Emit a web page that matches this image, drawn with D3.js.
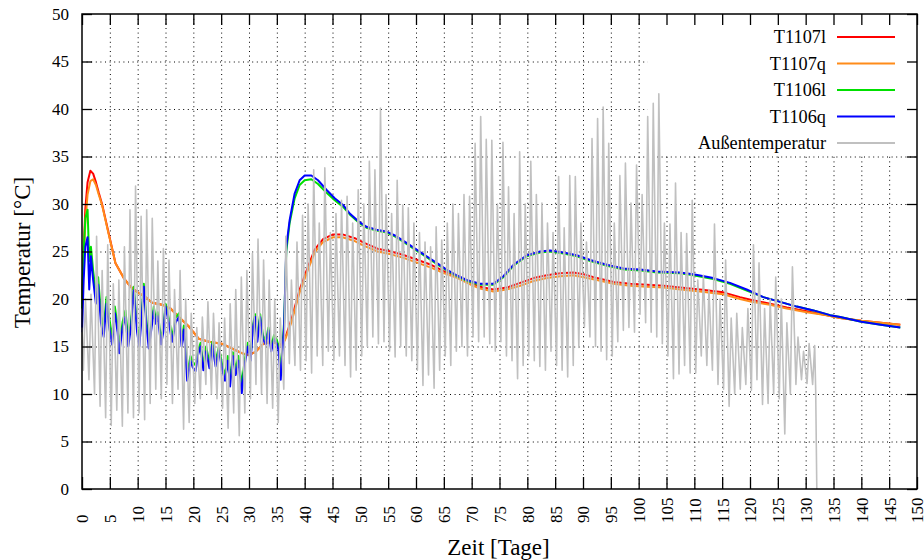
<!DOCTYPE html>
<html lang="de">
<head>
    <meta charset="UTF-8">
    <title>Temperaturverlauf</title>
    <script src="https://cdn.jsdelivr.net/npm/d3@7"></script>
    <style>
        body { margin: 0; background: #fff; }
        svg text { font-family: "Liberation Serif", "DejaVu Serif", serif; fill: #000; }
        .grid line { stroke: #000; stroke-width: 1; stroke-dasharray: 1,3.6; }
        .grid path { display: none; }
        .axis path { display: none; }
        .axis line { stroke: #000; stroke-width: 1.3; }
        .series { fill: none; stroke-linejoin: round; }
    </style>
</head>
<body>
<div id="chart"></div>
<script>
// ---- data ----
// T1107 sensors (red / orange), shared day stamps
const t1107Days = [0, 0.3, 0.6, 1, 1.5, 2, 2.5, 3, 3.6, 4.8, 6, 7.5, 8.7, 10, 11.4, 12.6, 14.4, 15.9,
    17.4, 19.2, 21, 22.8, 25.1, 26.9, 28.7, 29.9, 31.1, 32.6, 34.1, 35.6, 36.4, 37.6, 39.1, 40.6, 41.8,
    43.3, 45.1, 46.8, 49, 50.7, 53.1, 55.5, 57.9, 60.3, 62.7, 65.1, 67.5, 69.9, 71.5, 73.9, 76.3, 78.7,
    81.1, 83.5, 85.9, 88.3, 90.1, 92.5, 95.5, 98.5, 101.5, 104.5, 107.5, 111, 115.2, 118.2, 120.3,
    123.6, 126.6, 130.2, 133.8, 136.2, 140, 143.5, 147];
const t1107l = [19.5, 25, 29.5, 32.3, 33.5, 33.2, 32.3, 31.2, 30, 26.9, 23.8, 22.2, 21.3, 20.7, 20.2, 19.6, 19.4, 19,
    18.1, 17.1, 15.8, 15.5, 15.3, 14.8, 14.3, 14.1, 14.4, 15.3, 15.5, 15.2, 15.7, 17.8, 21, 23.4, 25.2,
    26.3, 26.8, 26.8, 26.4, 25.9, 25.3, 25, 24.6, 24.1, 23.6, 22.9, 22.4, 21.7, 21.3, 21, 21.2, 21.7,
    22.2, 22.5, 22.7, 22.8, 22.6, 22.2, 21.8, 21.6, 21.5, 21.4, 21.2, 21.0, 20.7, 20.2, 19.9,
    19.5, 19.1, 18.7, 18.3, 18.0, 17.7, 17.5, 17.3];
const t1107q = [19.5, 24, 28, 31, 32.4, 32.6, 32, 31, 29.9, 26.8, 23.8, 22.2, 21.3, 20.7, 20.2, 19.6, 19.4, 19,
    18.1, 17.1, 15.8, 15.5, 15.3, 14.8, 14.3, 14.1, 14.4, 15.3, 15.5, 15.2, 15.6, 17.5, 20.7, 23.1, 24.9,
    26, 26.5, 26.5, 26.1, 25.6, 25, 24.7, 24.3, 23.8, 23.3, 22.7, 22.2, 21.5, 21.1, 20.8, 21, 21.4,
    21.9, 22.2, 22.4, 22.5, 22.3, 22, 21.6, 21.4, 21.3, 21.2, 21.0, 20.8, 20.5, 20.0, 19.7,
    19.4, 19.0, 18.6, 18.3, 18.0, 17.7, 17.5, 17.3];

// T1106 sensors (green / blue), shared day stamps
const t1106Days = [0, 0.3, 0.6, 1.0, 1.3, 1.6, 2.0, 2.5, 2.9, 3.4, 3.9, 4.4, 4.9, 5.4, 5.9, 6.4, 6.7, 7.3, 7.8,
    8.3, 8.8, 9.3, 9.9, 10.3, 10.7, 11.1, 11.6, 12.0, 12.5, 12.9, 13.2, 13.6, 14.2, 14.6, 15.0, 15.6,
    16.2, 16.8, 17.4, 17.9, 18.3, 18.9, 19.5, 19.9, 20.4, 20.8, 21.3, 21.8, 22.3, 22.9, 23.4, 24.0,
    24.6, 25.2, 25.7, 26.2, 26.6, 27.1, 27.6, 28.1, 28.7, 29.2, 29.8, 30.3, 30.7, 31.1, 31.5, 32.0,
    32.5, 33.0, 33.5, 34.0, 34.5, 35.0, 35.3, 35.7, 36.0, 36.3, 36.7, 37.3, 38.2, 39.1, 40.0, 41.2,
    42.4, 43.9, 45.4, 46.9, 48.1, 49.6, 51.1, 52.9, 54.7, 56.2, 58.3, 60.1, 61.9, 63.7, 65.5, 67.3,
    69.1, 71.5, 73.9, 75.7, 77.5, 79.9, 82.3, 84.1, 86.5, 88.9, 91.3, 94.3, 97.3, 100.3, 103.3,
    107.4, 109.8, 113.4, 116.4, 119.4, 122.4, 125.4, 128.4, 131.4, 134.4, 136.2, 140, 143.5, 147];
const t1106l = [19, 25, 28.5, 29.4, 24, 25.5, 23, 20.5, 22.3, 18.5, 17, 20.2, 18, 16, 19.2, 17.2, 15.2, 17.6, 18.8,
    15.8, 17.6, 21.3, 17.2, 15.8, 18.5, 21.6, 17.6, 15.5, 17.5, 19.2, 18, 18.6, 15.8, 17, 19.5, 18,
    16, 18, 18.5, 15.6, 17.2, 12.2, 14, 13.4, 13, 14.5, 15.4, 13, 15, 13.3, 15.5, 13.5,
    15, 13, 12, 14, 11.5, 14.4, 12.6, 14, 11, 13.5, 15.4, 14, 17.3, 18.4, 16, 18.4,
    16.2, 15.6, 17, 15, 16.2, 15.7, 15, 12.5, 15, 17.5, 25, 28, 30.6, 32, 32.5, 32.6,
    32.1, 31.2, 30.4, 29.7, 28.9, 28.1, 27.5, 27.2, 27.0, 26.6, 25.8, 25.1, 24.4, 23.7, 23.0, 22.4,
    21.9, 21.5, 21.5, 22.3, 23.5, 24.5, 24.9, 25.0, 24.8, 24.5, 24.0, 23.5, 23.1, 23.0, 22.8,
    22.7, 22.5, 22.1, 21.6, 20.9, 20.2, 19.7, 19.2, 18.8, 18.3, 18.1, 17.6, 17.3, 17.0];
const t1106q = [16.5, 22, 25.5, 26.5, 21, 24.5, 22, 19.5, 21.5, 17.5, 16, 19.5, 17, 15.2, 18.5, 16.5, 14.3, 17, 18.1,
    15, 17, 20.9, 16.5, 15, 18, 21.3, 17, 14.8, 17, 18.8, 17.4, 18.2, 15.2, 16.5, 19.2, 17.5,
    15.5, 17.5, 18.1, 15, 16.8, 11.4, 13.5, 12.8, 12.4, 14, 15, 12.5, 14.5, 12.7, 15.2, 12.9,
    14.6, 12.5, 11.4, 13.5, 10.8, 14, 12, 13.5, 10.1, 13, 15, 13.5, 17, 18.1, 15.5, 18.1,
    15.8, 15.2, 16.7, 14.5, 15.8, 15.3, 14.6, 11.5, 14.5, 17, 25.5, 28.3, 31.1, 32.5, 33.0, 33.0,
    32.5, 31.5, 30.6, 29.9, 29, 28.2, 27.6, 27.3, 27.1, 26.7, 25.9, 25.2, 24.5, 23.8, 23.1, 22.5,
    22.0, 21.6, 21.6, 22.4, 23.6, 24.6, 25, 25.1, 24.9, 24.6, 24.1, 23.6, 23.2, 23.1, 22.9,
    22.8, 22.6, 22.2, 21.7, 21.0, 20.2, 19.7, 19.2, 18.8, 18.3, 18.1, 17.6, 17.3, 17.0];

// outside temperature: daily minimum and maximum, days 0..131
const outsideMin = [12.5, 11.5, 10, 8.7, 7.5, 6.7, 8.3, 6.6, 8, 7.5, 8, 7.3, 9, 10.5, 9.5, 11, 9, 10.5, 6.3, 7,
    9, 9.5, 11, 10, 9.5, 8.5, 6.4, 8, 5.6, 8, 9.5, 11, 10, 9, 8.5, 7, 10.5,
    13.2, 13, 12.5, 13.5, 12.2, 14, 13, 14.5, 13.5, 14, 13, 11.8, 12.5, 14, 15, 16, 15.3, 15.5, 14.5,
    13.9, 15, 14, 13.5, 12.5, 10.9, 12, 10.6, 12.5, 14, 13, 14.5, 15, 14, 16, 15.5,
    16, 15.3, 14.5, 15.5, 14, 13.5, 11.6, 13, 14, 13.5, 12.9, 12.5, 14.5, 13, 12.5, 11.8, 13, 14.9,
    17, 16, 15, 14.5, 13.6, 14, 15.5, 16.7, 17, 16.5, 18.4, 17.5, 16.5, 16, 15.3, 14, 11.6, 12.1,
    13, 12.2, 12.2, 14, 13, 12.5, 11, 10.5, 8.7, 10, 10.5, 11, 10.4, 11.5, 8.9, 9, 10, 9.5, 5.8,
    10, 11, 11.5, 11.1, 11];
const outsideMax = [20, 20.5, 26.6, 23, 25.7, 21.6, 22, 25.5, 29.4, 31.9, 28.7, 29.4, 28.5, 24, 25.3, 24.1, 21, 23,
    20, 18.5, 17, 18.1, 19.7, 18.5, 17.5, 18, 19.5, 21, 22.3, 23, 24.8, 26.3, 24.1, 22, 20, 18, 26.6,
    22, 26, 28.8, 30, 33.6, 28, 33.8, 27, 29, 30.4, 30.8, 28, 31.5, 30, 34.5, 33.6, 40.1, 31, 29,
    32.5, 29.9, 29.6, 28, 27, 26, 25.5, 27.6, 26.2, 28, 30, 29, 31, 30.8, 36.4, 39.2,
    36.8, 36.7, 30, 36.5, 31.8, 29, 35.5, 30, 34.5, 31, 30.1, 28, 27, 32.9, 27.5, 33, 32.9, 28,
    26, 36.9, 39, 40.2, 36.4, 28, 33, 34.3, 30.1, 34.1, 31, 39.2, 40.6, 41.6, 28, 27.9, 32.2, 27,
    26.9, 30.4, 22, 22.5, 21, 27.9, 20, 24.1, 18, 18.5, 17, 19, 25.7, 23.8, 19, 20, 22.3, 20, 17.5,
    23.4, 16, 14.5, 15.3, 15.1];
const outsideStart = [[0, 17]];
const outsideEnd = [[131.8, 10.4], [132.0, 0]];

const seriesNames = ["T1107l", "T1107q", "T1106l", "T1106q", "Außentemperatur"];
const seriesColors = ["#ff0000", "#ff8c1a", "#00e000", "#0000ff", "#c0c0c0"];
const xTicks = d3.range(0, 151, 5);
const yTicks = d3.range(0, 51, 5);

// ---- layout ----
const margin = { top: 14, right: 7, bottom: 71, left: 82 },
    width = 924 - margin.left - margin.right,
    height = 560 - margin.top - margin.bottom;

const svg = d3.select("#chart").append("svg")
    .attr("width", 924).attr("height", 560);
const g = svg.append("g")
    .attr("transform", `translate(${margin.left},${margin.top})`);

const x = d3.scaleLinear().domain([0, 150]).range([0, width]);
const y = d3.scaleLinear().domain([0, 50]).range([height, 0]);

// grid (dotted)
g.append("g").attr("class", "grid")
    .attr("transform", `translate(0,${height})`)
    .call(d3.axisBottom(x).tickValues(xTicks.slice(1, -1)).tickSize(-height).tickFormat(""));
g.append("g").attr("class", "grid")
    .call(d3.axisLeft(y).tickValues(yTicks.slice(1, -1)).tickSize(-width).tickFormat(""));

// the key box hides the grid behind it
g.append("rect")
    .attr("x", x(101.6)).attr("y", 0)
    .attr("width", width - x(101.6)).attr("height", y(35.15))
    .attr("fill", "#fff");

// series
const zip = (days, vals) => days.map((d, i) => [d, vals[i]]);
const outsidePts = outsideStart.concat(
    outsideMin.flatMap((v, d) => [[d + 0.25, v], [d + 0.62, outsideMax[d]]]),
    outsideEnd);
const seriesData = [
    zip(t1107Days, t1107l),
    zip(t1107Days, t1107q),
    zip(t1106Days, t1106l),
    zip(t1106Days, t1106q),
    outsidePts
];
const line = d3.line().x(d => x(d[0])).y(d => y(d[1]));

g.selectAll(".series")
    .data(seriesData)
    .join("path")
    .attr("class", "series")
    .attr("d", line)
    .attr("stroke", (d, i) => seriesColors[i])
    .attr("stroke-width", (d, i) => i === 4 ? 1.6 : 2);

// axes: ticks pointing inwards, mirrored on top/right
const xAxis = g.append("g").attr("class", "axis")
    .attr("transform", `translate(0,${height})`)
    .call(d3.axisBottom(x).tickValues(xTicks).tickSize(-12).tickPadding(0));
xAxis.selectAll("text")
    .attr("transform", "rotate(-90)")
    .attr("text-anchor", "start")
    .attr("x", -34).attr("y", 0).attr("dy", "0.35em")
    .style("font-size", "17px");
g.append("g").attr("class", "axis")
    .call(d3.axisTop(x).tickValues(xTicks).tickSize(-11).tickFormat(""));

const yAxis = g.append("g").attr("class", "axis")
    .call(d3.axisLeft(y).tickValues(yTicks).tickSize(-10).tickPadding(13));
yAxis.selectAll("text").style("font-size", "17px");
g.append("g").attr("class", "axis")
    .attr("transform", `translate(${width},0)`)
    .call(d3.axisRight(y).tickValues(yTicks).tickSize(-10).tickFormat(""));

// border
g.append("rect")
    .attr("width", width).attr("height", height)
    .attr("fill", "none").attr("stroke", "#000").attr("stroke-width", 1.5);

// key
const key = g.append("g").attr("transform", `translate(${755},${23})`);
const entries = key.selectAll(".entry")
    .data(seriesNames)
    .join("g")
    .attr("class", "entry")
    .attr("transform", (d, i) => `translate(0,${i * 26.5})`);
entries.append("text")
    .attr("x", -11).attr("dy", "0.33em")
    .attr("text-anchor", "end")
    .style("font-size", "18.3px")
    .text(d => d);
entries.append("line")
    .attr("x1", 0).attr("x2", 58)
    .attr("stroke", (d, i) => seriesColors[i])
    .attr("stroke-width", 2);

// axis titles
svg.append("text")
    .attr("x", margin.left + width / 2 - 1).attr("y", 555)
    .attr("text-anchor", "middle")
    .style("font-size", "23px")
    .text("Zeit [Tage]");
svg.append("text")
    .attr("transform", `translate(30,${margin.top + height / 2 + 1}) rotate(-90)`)
    .attr("text-anchor", "middle")
    .style("font-size", "23px")
    .text("Temperatur [°C]");
</script>
</body>
</html>
